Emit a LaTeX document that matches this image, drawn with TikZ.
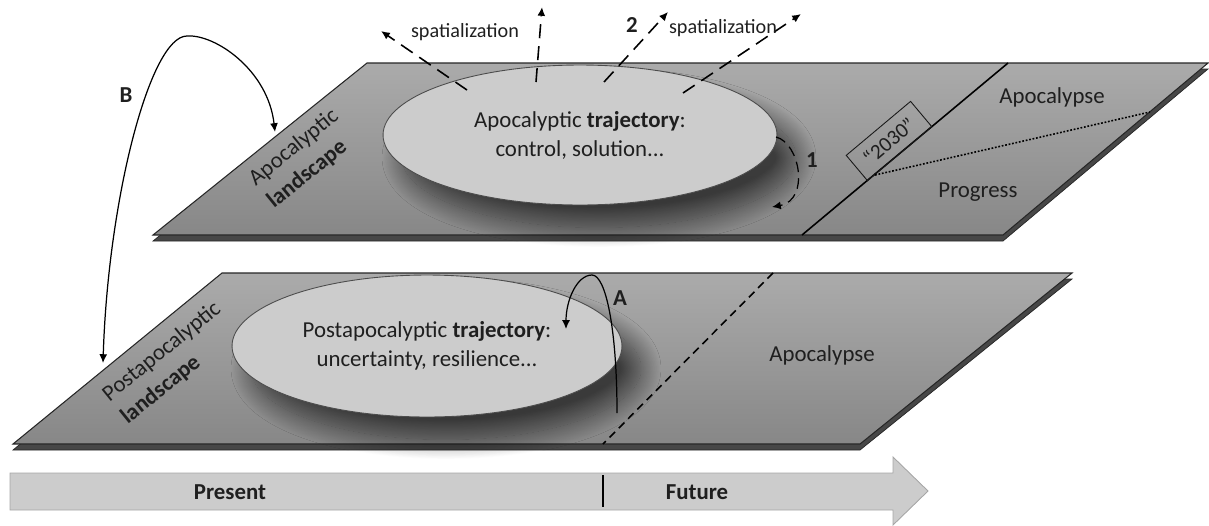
\documentclass[tikz,border=0pt]{standalone}
\usepackage{fontspec}
\setmainfont{Carlito}
\usetikzlibrary{arrows.meta,shapes.geometric,shadows.blur}

\tikzset{
  plane/.style={top color=black!33, bottom color=black!47, draw=black!85, line width=0.6pt},
  planeedge/.style={fill=black!72, draw=black!85, line width=0.4pt},
  traj/.style={ellipse, fill=black!20, draw=black!70, line width=0.5pt, inner sep=0pt,
    align=center, text=black!88,
    blur shadow={shadow xshift=0.38cm, shadow yshift=-0.45cm, shadow opacity=60,
      shadow blur radius=0.4cm, shadow blur steps=30}},
  lbl/.style={text=black!88, inner sep=1pt},
  tag/.style={text=black!88, inner sep=1pt, font=\bfseries},
  side/.style={text=black!88, inner sep=0pt, align=left, rotate=39},
  spat/.style={dash pattern=on 8pt off 4.5pt, line width=0.9pt, -{Latex[length=5pt,width=4.5pt]}},
  loop/.style={line width=0.7pt, -{Latex[length=5pt,width=4.5pt]}},
  timebar/.style={fill=black!20, draw=black!35, line width=0.5pt}
}

\begin{document}
\begin{tikzpicture}[x=0.02cm, y=-0.02cm]
\fontsize{13}{16.5}\selectfont
\useasboundingbox (0,0) rectangle (1209,525);

\filldraw[planeedge] (367,69) -- (1208,69) -- (1003,241) -- (153,241) -- cycle;
\shade[plane] (367,63) -- (1208,63) -- (1003,235) -- (153,235) -- cycle;

\filldraw[planeedge] (222,279) -- (1072,279) -- (860,450) -- (13,450) -- cycle;
\shade[plane] (222,273) -- (1072,273) -- (860,444) -- (13,444) -- cycle;

\node[traj, minimum width=7.88cm, minimum height=2.8cm] (apotraj) at (580,135)
  {Apocalyptic \textbf{trajectory}:\\control, solution...};
\node[traj, minimum width=7.8cm, minimum height=2.84cm] (posttraj) at (427,346)
  {Postapocalyptic \textbf{trajectory}:\\uncertainty, resilience...};

\node[side] (apoland) at (303,159) {Apocalyptic\\\textbf{landscape}};
\node[side] (postland) at (171,363) {Postapocalyptic\\\textbf{landscape}};

\coordinate (sa1) at (467,90);  \coordinate (sb1) at (381,31);
\coordinate (sa2) at (536,82);  \coordinate (sb2) at (542,7);
\coordinate (sa3) at (604,82);  \coordinate (sb3) at (668,12);
\coordinate (sa4) at (683,93);  \coordinate (sb4) at (801,14);
\draw[spat] (sa1) -- (sb1);
\draw[spat] (sa2) -- (sb2);
\draw[spat] (sa3) -- (sb3);
\draw[spat] (sa4) -- (sb4);
{\fontsize{11.5}{13}\selectfont
\node[lbl] (spat1) at (465,32) {spatialization};
\node[lbl] (spat2) at (723,28) {spatialization};}
\node[tag] (two) at (632,25) {2};

\coordinate (ra) at (776,137);
\coordinate (rb) at (772,207);
\draw[loop, dash pattern=on 6pt off 3.5pt] (ra) .. controls (800,143) and (810,200) .. (rb);
\node[tag] (one) at (812,160) {1};

\coordinate (cut1) at (1008,63);
\coordinate (cut2) at (802,235);
\draw[line width=0.9pt] (cut1) -- (cut2);
\node[draw=black!90, line width=0.5pt, minimum width=1.68cm, minimum height=0.66cm,
  inner sep=0pt, rotate=40, text=black!88] (year) at (889,141) {\fontsize{12}{14}\selectfont “2030”};
\coordinate (dot1) at (875,175);
\coordinate (dot2) at (1150,112);
\draw[line width=0.9pt, dash pattern=on 1pt off 1pt] (dot1) -- (dot2);
\node[lbl] (apoc1) at (1052,97) {Apocalypse};
\node[lbl] (prog) at (978,192) {Progress};

\coordinate (cut3) at (773,273);
\coordinate (cut4) at (603,444);
\draw[line width=0.9pt, dash pattern=on 4.5pt off 3pt] (cut3) -- (cut4);
\node[lbl] (apoc2) at (822,355) {Apocalypse};

\coordinate (aa) at (617,413);
\coordinate (atop) at (592,275);
\coordinate (ab) at (566,329);
\draw[loop] (aa) .. controls (617,330) and (606,275) .. (atop)
  .. controls (577,275) and (566,300) .. (ab);
\node[tag] (A) at (620,298) {A};

\coordinate (bu) at (275,132);
\coordinate (btop) at (187,36);
\coordinate (bl) at (103,363);
\draw[loop, {Latex[length=5pt,width=4.5pt]}-{Latex[length=5pt,width=4.5pt]}] (bu)
  .. controls (268,70) and (215,34) .. (btop)
  .. controls (150,36) and (108,200) .. (bl);
\node[tag] (B) at (126,95) {B};

\filldraw[timebar] (10,473) -- (893,473) -- (893,457) -- (928,491) -- (893,525)
  -- (893,510) -- (10,510) -- cycle;
\coordinate (now1) at (603,475);
\coordinate (now2) at (603,507);
\draw[line width=1.2pt] (now1) -- (now2);
\node[tag] (present) at (230,492) {Present};
\node[tag] (future) at (697,492) {Future};
\end{tikzpicture}
\end{document}
